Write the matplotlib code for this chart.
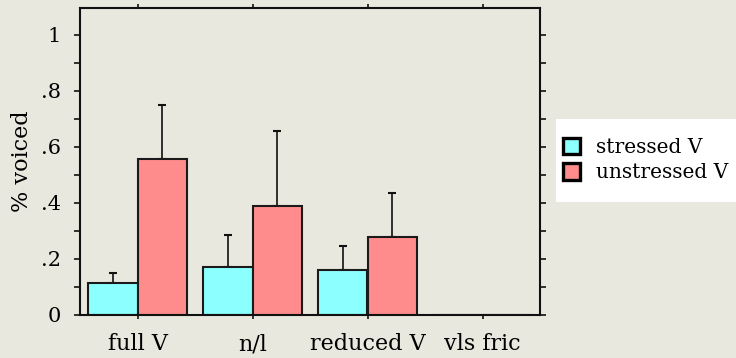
import matplotlib
matplotlib.use("Agg")
import matplotlib.pyplot as plt
import numpy as np
from matplotlib.patches import Patch, Rectangle
from matplotlib.ticker import MultipleLocator

categories = ["full V", "n/l", "reduced V", "vls fric"]
stressed = [0.115, 0.173, 0.161, 0.0]
stressed_err = [0.034, 0.113, 0.085, 0.0]
unstressed = [0.558, 0.388, 0.280, 0.0]
unstressed_err = [0.191, 0.269, 0.155, 0.0]
series_names = ["stressed V", "unstressed V"]
ytick_vals = [0, 0.2, 0.4, 0.6, 0.8, 1.0]
ytick_labels = ["0", ".2", ".4", ".6", ".8", "1"]

bg = "#E9E8DE"
c_st = "#8CFFFF"
c_un = "#FF8C8C"

plt.rcParams['font.family'] = ['DejaVu Serif']
fig = plt.figure(figsize=(7.36, 3.58), dpi=100, facecolor=bg)
ax = fig.add_axes([80/736, 1-315/358, 460/736, 307/358])
ax.set_facecolor(bg)

x = np.arange(len(categories))
w = 0.43
ax.bar(x - w/2, stressed, w, color=c_st, edgecolor="#1a1a1a", linewidth=1.5, zorder=2)
ax.bar(x + w/2, unstressed, w, color=c_un, edgecolor="#1a1a1a", linewidth=1.5, zorder=2)
for xi, v, e in zip(x - w/2, stressed, stressed_err):
    if e > 0:
        ax.errorbar([xi], [v], yerr=[[0], [e]], fmt='none', ecolor='#111', elinewidth=1.2, capsize=3, capthick=1.5, zorder=1)
for xi, v, e in zip(x + w/2, unstressed, unstressed_err):
    if e > 0:
        ax.errorbar([xi], [v], yerr=[[0], [e]], fmt='none', ecolor='#111', elinewidth=1.2, capsize=3, capthick=1.5, zorder=1)

ax.set_xlim(-0.5, 3.5)
ax.set_ylim(0, 1.096)
ax.set_xticks(x)
ax.set_xticklabels(categories, fontsize=16)
ax.set_yticks(ytick_vals)
ax.set_yticklabels(ytick_labels, fontsize=15)
ax.yaxis.set_minor_locator(MultipleLocator(0.1))
ax.tick_params(axis='both', which='both', direction='out', color='#111')
ax.tick_params(axis='y', which='both', length=4.5, width=1.2, right=True, pad=9)
ax.tick_params(axis='x', which='major', length=3, width=1.2, top=True, pad=10)
for s in ax.spines.values():
    s.set_linewidth(1.5)
    s.set_color('#111')
ax.set_ylabel("% voiced", fontsize=16, labelpad=6)

fig.patches.append(Rectangle((556/736, 1-202/358), 180/736, 83/358,
                             transform=fig.transFigure, facecolor='white',
                             edgecolor='none', zorder=0))
handles = [Patch(facecolor=c_st, edgecolor='black', linewidth=2.4),
           Patch(facecolor=c_un, edgecolor='black', linewidth=2.4)]
leg = fig.legend(handles, series_names, loc='upper left', bbox_to_anchor=(563/736, 1-138/358),
                 frameon=False, fontsize=14.5, handlelength=0.85, handleheight=0.85,
                 handletextpad=0.8, labelspacing=0.32, borderpad=0, borderaxespad=0)

fig.savefig("out.png", dpi=100, facecolor=bg)
